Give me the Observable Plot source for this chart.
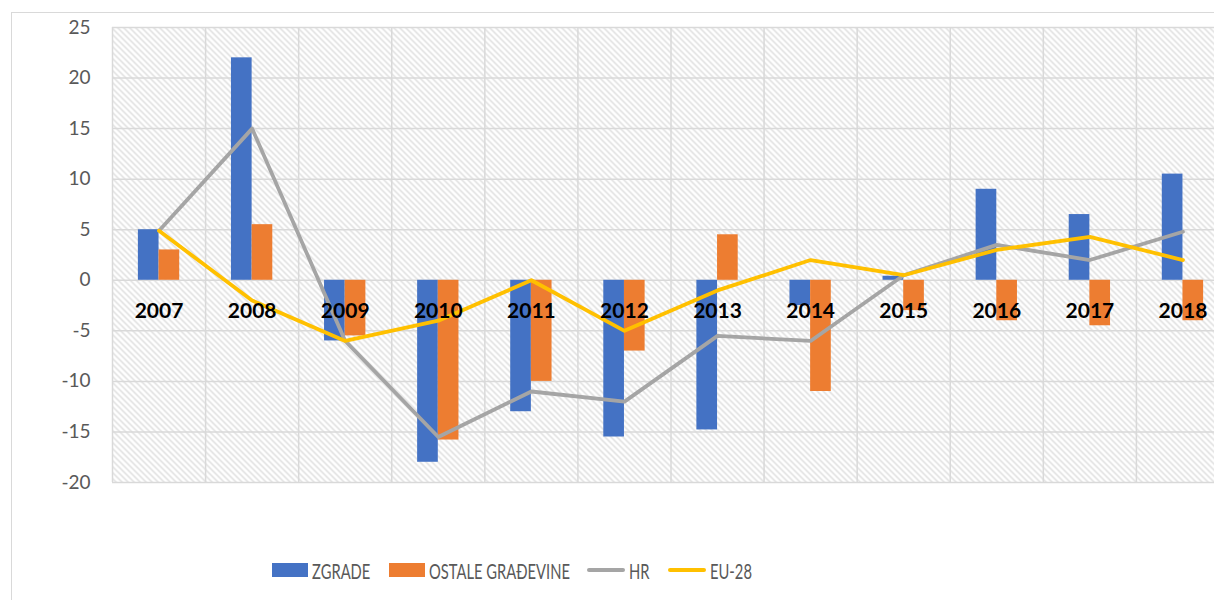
<!DOCTYPE html>
<html>
<head>
<meta charset="utf-8">
<script src="https://cdn.jsdelivr.net/npm/d3@7"></script>
<script src="https://cdn.jsdelivr.net/npm/@observablehq/plot@0.6"></script>
<style>
html,body{margin:0;padding:0;background:#fff;overflow:hidden;width:1214px;height:600px;}
#frame{position:absolute;left:11px;top:12px;width:1400px;height:800px;border:1.5px solid #d9d9d9;box-sizing:border-box;}
#chart{position:absolute;left:0;top:0;width:1240px;}
#chart svg{max-width:none !important;}
#legend{position:absolute;left:0;top:555px;width:1214px;height:30px;font-family:Lato,sans-serif;color:#595959;}
.item{position:absolute;top:0;height:30px;display:flex;align-items:center;}
.sw{display:inline-block;}
.lbl{display:inline-block;font-size:22px;transform:scaleX(0.67);transform-origin:left center;white-space:nowrap;margin-left:4px;}
</style>
</head>
<body>
<div id="frame"></div>
<div id="chart"></div>
<div id="legend"></div>
<script>
// ---- data ----
const years = [2007, 2008, 2009, 2010, 2011, 2012, 2013, 2014, 2015, 2016, 2017, 2018];
const zgrade = [5, 22, -6, -18, -13, -15.5, -14.8, -2.5, 0.4, 9, 6.5, 10.5];
const ostale = [3, 5.5, -5.5, -15.8, -10, -7, 4.5, -11, -3, -4, -4.5, -4];
const hr = [4.9, 15, -6, -15.5, -11, -12, -5.5, -6, 0.5, 3.5, 2, 4.8];
const eu = [4.9, -2, -6, -4, 0, -5, -1, 2, 0.5, 3, 4.3, 2];
const yTicks = [-20, -15, -10, -5, 0, 5, 10, 15, 20, 25];
const seriesNames = ["ZGRADE", "OSTALE GRAĐEVINE", "HR", "EU-28"];
const seriesColors = ["#4472C4", "#ED7D31", "#A5A5A5", "#FFC000"];

// ---- derived tables ----
const barRows = years.flatMap((y, i) => [
  {year: y, series: seriesNames[0], value: zgrade[i], side: -1},
  {year: y, series: seriesNames[1], value: ostale[i], side: 1}
]);
const hrRows = years.map((y, i) => ({year: y, value: hr[i]}));
const euRows = years.map((y, i) => ({year: y, value: eu[i]}));
const bounds = years.map(y => y - 0.5).concat([years[years.length - 1] + 0.5]);
const bw = 0.222; // bar width as fraction of category

const chart = Plot.plot({
  width: 1240,
  height: 492,
  marginLeft: 112,
  marginRight: 11,
  marginTop: 27,
  marginBottom: 10,
  style: {fontFamily: "Lato, sans-serif", fontSize: "19px", color: "#595959", background: "transparent", overflow: "visible", maxWidth: "none"},
  x: {domain: [bounds[0], bounds[bounds.length - 1]], axis: null},
  y: {domain: [-20, 25], ticks: yTicks, tickSize: 0, tickPadding: 22, label: null, tickFormat: d => String(d)},
  color: {domain: seriesNames.slice(0, 2), range: seriesColors.slice(0, 2)},
  marks: [
    Plot.frame({fill: "url(#hatch)", stroke: "none"}),
    Plot.ruleY(yTicks, {stroke: "#d9d9d9", strokeWidth: 1.5, strokeOpacity: 1}),
    Plot.ruleX(bounds, {stroke: "#d9d9d9", strokeWidth: 1.5, strokeOpacity: 1}),
    Plot.rectY(barRows, {
      x1: d => d.side < 0 ? d.year - bw : d.year,
      x2: d => d.side < 0 ? d.year : d.year + bw,
      y1: 0,
      y2: "value",
      fill: "series"
    }),
    Plot.line(hrRows, {x: "year", y: "value", stroke: seriesColors[2], strokeWidth: 3.8, strokeLinejoin: "round", strokeLinecap: "round"}),
    Plot.line(euRows, {x: "year", y: "value", stroke: seriesColors[3], strokeWidth: 3.8, strokeLinejoin: "round", strokeLinecap: "round"}),
    Plot.text(years, {x: d => d, y: 0, text: d => String(d), dy: 31, fontWeight: "bold", fontSize: 21, fill: "#000"})
  ]
});

d3.select(chart).insert("defs", ":first-child").html(
  '<pattern id="hatch" patternUnits="userSpaceOnUse" width="6" height="6">' +
  '<rect width="6" height="6" fill="#ffffff"/>' +
  '<path d="M-1,-1 L7,7 M-1,5 L1,7 M5,-1 L7,1" stroke="#dcdcdc" stroke-width="1.4"/>' +
  '</pattern>'
);
chart.style.maxWidth = "none";
chart.style.width = "1240px";
chart.style.height = "492px";
document.getElementById("chart").appendChild(chart);

// ---- legend ----
const legend = document.getElementById("legend");
const lefts = [272, 389, 587, 668];
seriesNames.forEach((name, i) => {
  const item = document.createElement("div");
  item.className = "item";
  item.style.left = lefts[i] + "px";
  const sw = document.createElement("span");
  sw.className = "sw";
  if (i < 2) {
    sw.style.width = "36px"; sw.style.height = "14px"; sw.style.background = seriesColors[i];
  } else {
    sw.style.width = "38px"; sw.style.height = "4px"; sw.style.borderRadius = "2px"; sw.style.background = seriesColors[i];
  }
  const lb = document.createElement("span");
  lb.className = "lbl";
  lb.textContent = name;
  item.appendChild(sw);
  item.appendChild(lb);
  legend.appendChild(item);
});
</script>
</body>
</html>
